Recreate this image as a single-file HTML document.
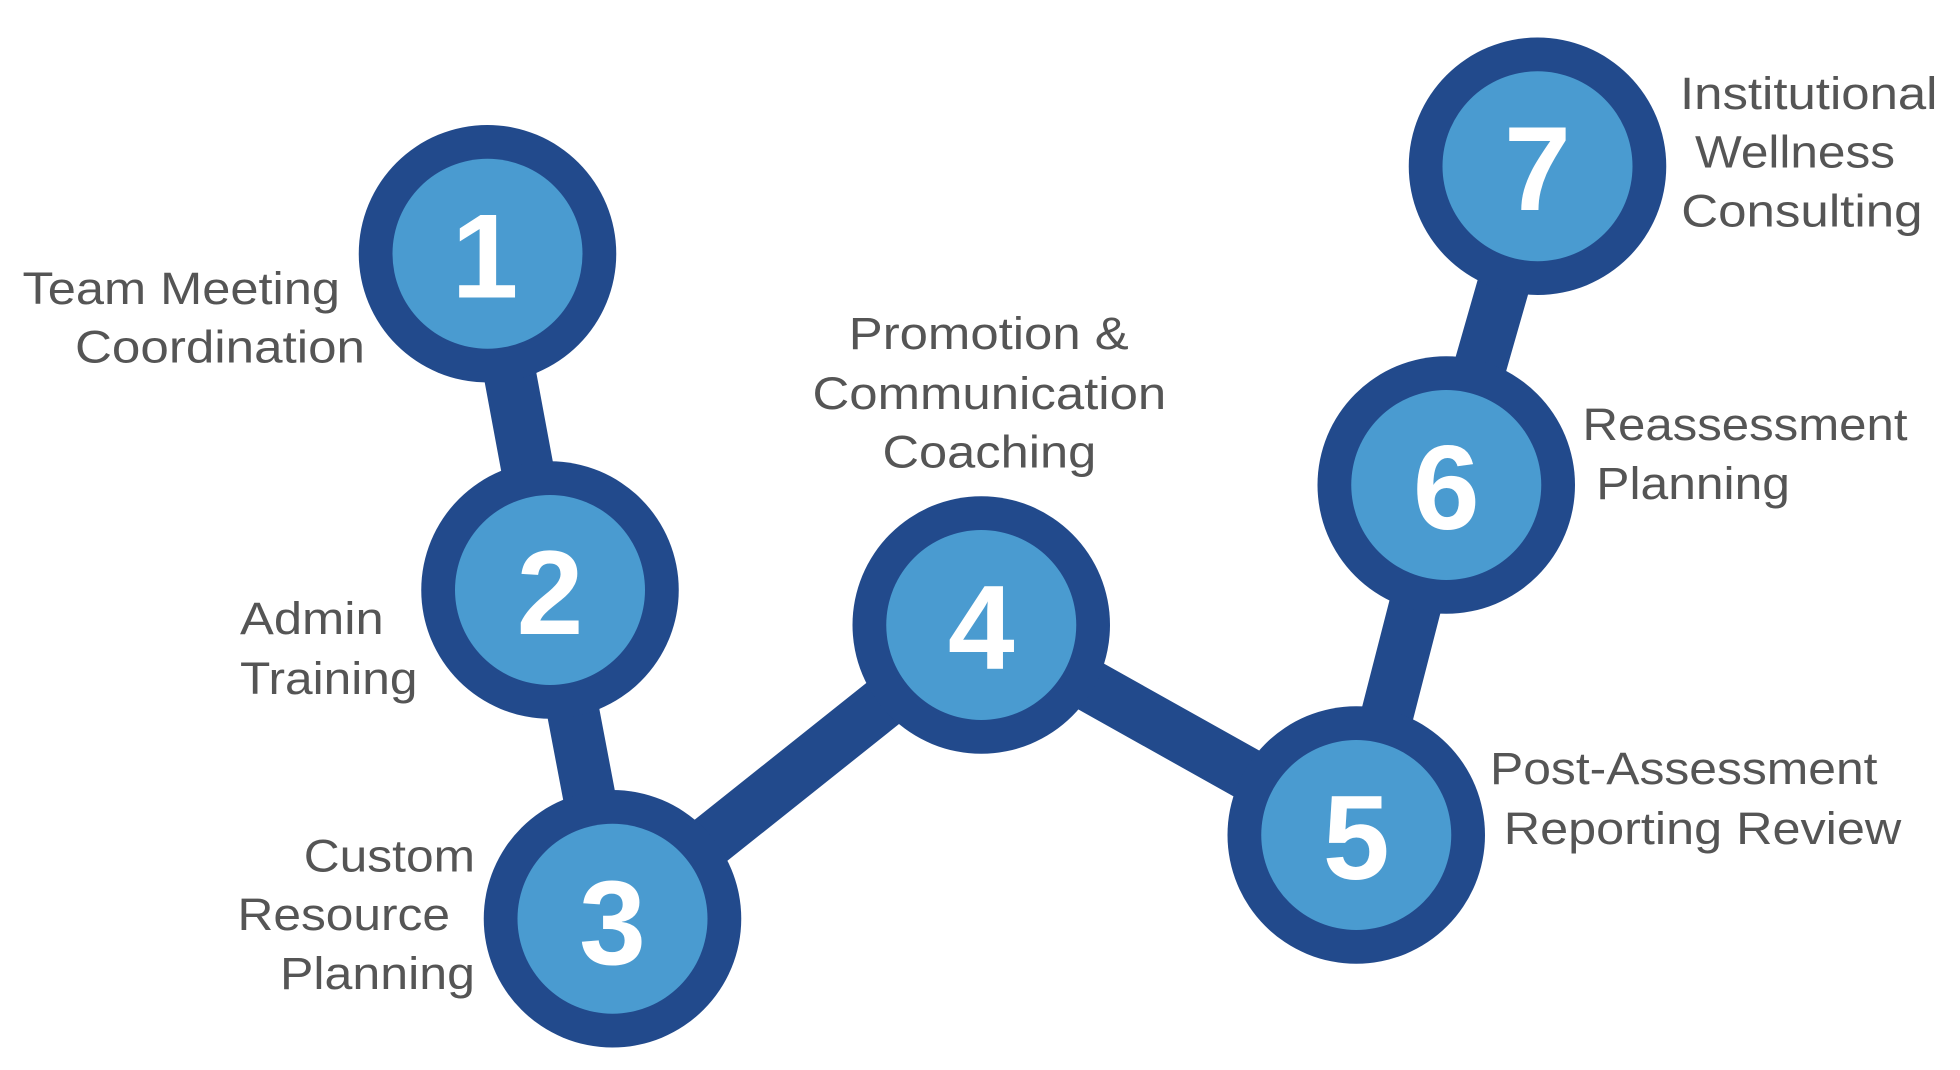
<!DOCTYPE html>
<html><head><meta charset="utf-8"><style>
html,body{margin:0;padding:0;background:#fff;width:1960px;height:1070px;overflow:hidden}
svg{display:block}
.t{font-family:"Liberation Sans",sans-serif;font-size:36px;fill:#555}
.n{font-family:"Liberation Sans",sans-serif;font-weight:bold;font-size:96px;fill:#fff;text-anchor:middle}
</style></head><body>
<svg width="1960" height="1070" viewBox="0 0 1568 856" preserveAspectRatio="none">
<g stroke="#224a8c" stroke-width="42" fill="none">
<polyline points="390,203 440,472 490,735 785,500 1085,668 1157,388 1230,133"/>
</g>
<g fill="#224a8c">
<circle cx="390" cy="203" r="103"/><circle cx="440" cy="472" r="103"/><circle cx="490" cy="735" r="103"/>
<circle cx="785" cy="500" r="103"/><circle cx="1085" cy="668" r="103"/><circle cx="1157" cy="388" r="103"/><circle cx="1230" cy="133" r="103"/>
</g>
<g fill="#4a9bd0">
<circle cx="390" cy="203" r="76"/><circle cx="440" cy="472" r="76"/><circle cx="490" cy="735" r="76"/>
<circle cx="785" cy="500" r="76"/><circle cx="1085" cy="668" r="76"/><circle cx="1157" cy="388" r="76"/><circle cx="1230" cy="133" r="76"/>
</g>
<text class="n" x="388" y="238">1</text>
<text class="n" x="440" y="507">2</text>
<text class="n" x="490" y="771">3</text>
<text class="n" x="785" y="535">4</text>
<text class="n" x="1085" y="703">5</text>
<text class="n" x="1157" y="423">6</text>
<text class="n" x="1230" y="168">7</text>
<g class="t">
<text class="t" x="18" y="243" textLength="254" lengthAdjust="spacingAndGlyphs">Team Meeting</text>
<text class="t" x="60" y="290" textLength="232" lengthAdjust="spacingAndGlyphs">Coordination</text>
<text class="t" x="192" y="507" textLength="115" lengthAdjust="spacingAndGlyphs">Admin</text>
<text class="t" x="192" y="555" textLength="142" lengthAdjust="spacingAndGlyphs">Training</text>
<text class="t" x="243" y="697" textLength="137" lengthAdjust="spacingAndGlyphs">Custom</text>
<text class="t" x="190" y="744" textLength="170" lengthAdjust="spacingAndGlyphs">Resource</text>
<text class="t" x="224" y="791" textLength="156" lengthAdjust="spacingAndGlyphs">Planning</text>
<text class="t" x="679" y="279" textLength="224" lengthAdjust="spacingAndGlyphs">Promotion &amp;</text>
<text class="t" x="650" y="327" textLength="283" lengthAdjust="spacingAndGlyphs">Communication</text>
<text class="t" x="706" y="374" textLength="171" lengthAdjust="spacingAndGlyphs">Coaching</text>
<text class="t" x="1192" y="627" textLength="310" lengthAdjust="spacingAndGlyphs">Post-Assessment</text>
<text class="t" x="1203" y="675" textLength="318" lengthAdjust="spacingAndGlyphs">Reporting Review</text>
<text class="t" x="1266" y="352" textLength="260" lengthAdjust="spacingAndGlyphs">Reassessment</text>
<text class="t" x="1277" y="399" textLength="155" lengthAdjust="spacingAndGlyphs">Planning</text>
<text class="t" x="1344" y="87" textLength="206" lengthAdjust="spacingAndGlyphs">Institutional</text>
<text class="t" x="1356" y="134" textLength="160" lengthAdjust="spacingAndGlyphs">Wellness</text>
<text class="t" x="1345" y="181" textLength="193" lengthAdjust="spacingAndGlyphs">Consulting</text>
</g>
</svg>
</body></html>
